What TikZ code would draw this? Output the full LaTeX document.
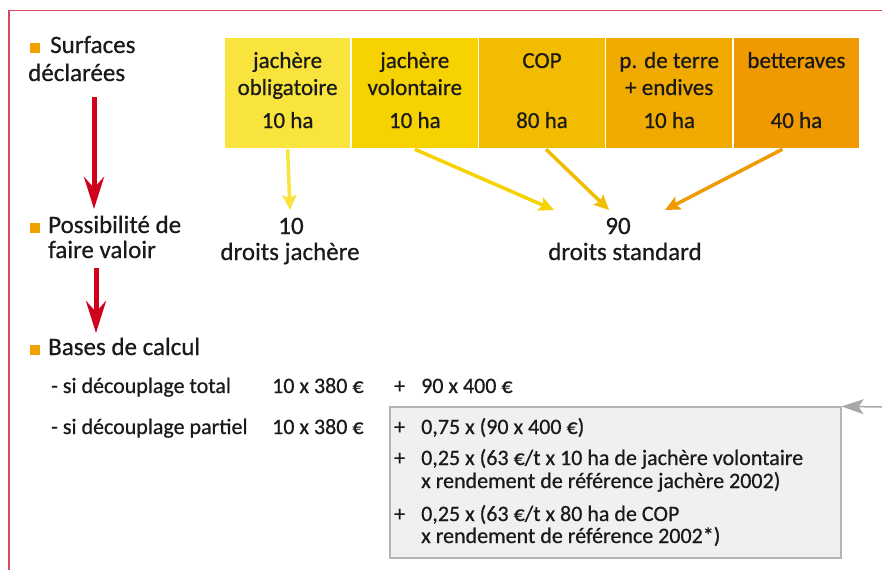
\documentclass[tikz,border=0pt]{standalone}
\usepackage{fontspec}
\setmainfont{Carlito}[FakeBold=0.6]
\usetikzlibrary{arrows.meta,calc}
\definecolor{frame}{HTML}{D84A5E}
\definecolor{redarr}{HTML}{D0021B}
\definecolor{bul}{HTML}{F0A000}
\definecolor{cA}{HTML}{F8E43C}
\definecolor{cB}{HTML}{F5D200}
\definecolor{cC}{HTML}{F2BD00}
\definecolor{cD}{HTML}{F0AA00}
\definecolor{cE}{HTML}{EE9A00}
\definecolor{gfill}{HTML}{F0F0F0}
\definecolor{gline}{HTML}{B4B4B4}
\definecolor{garr}{HTML}{A8A8A8}
\definecolor{ink}{HTML}{1A1A1A}
\newcommand\fsA{\fontsize{25}{30}\selectfont}
\newcommand\fsB{\fontsize{23}{27}\selectfont}
\newcommand\fsC{\fontsize{22}{26}\selectfont}
\begin{document}
\begin{tikzpicture}[x=1pt,y=-1pt,
  txt/.style={inner sep=0pt, anchor=base west, text=ink},
  ctxt/.style={inner sep=0pt, anchor=base, text=ink},
  bullet/.style={fill=bul, inner sep=0pt, minimum size=10pt, anchor=south west},
  surfbox/.style={minimum width=127.2pt, minimum height=111pt, inner sep=0pt, draw=white, line width=1.5pt},
  redarrow/.style={draw=redarr, line width=5pt, -{Stealth[length=32pt,width=20pt,inset=11pt]}},
  yarrow/.style={line width=3.5pt, -{Stealth[length=15pt,width=14pt,inset=3pt]}},
  gbox/.style={fill=gfill, draw=gline, line width=1.2pt, minimum width=451pt, minimum height=151pt, inner sep=0pt},
]
\useasboundingbox (0,0) rectangle (882,570);
\fill[white] (0,0) rectangle (882,570);
% frame
\draw[frame, line width=1.5pt] (9,570) -- (9,10.5) -- (882,10.5);

% surface boxes
\node[surfbox, fill=cA] (b1) at (287.6,93) {};
\node[surfbox, fill=cB] (b2) at (414.8,93) {};
\node[surfbox, fill=cC] (b3) at (542.0,93) {};
\node[surfbox, fill=cD] (b4) at (669.2,93) {};
\node[surfbox, fill=cE] (b5) at (796.4,93) {};

\node[ctxt] (t1a) at (287.6,68) {\fsB jachère};
\node[ctxt] (t1b) at (287.6,95) {\fsB obligatoire};
\node[ctxt] (t1c) at (287.6,128) {\fsB 10 ha};
\node[ctxt] (t2a) at (414.8,68) {\fsB jachère};
\node[ctxt] (t2b) at (414.8,95) {\fsB volontaire};
\node[ctxt] (t2c) at (414.8,128) {\fsB 10 ha};
\node[ctxt] (t3a) at (542.0,68) {\fsB COP};
\node[ctxt] (t3c) at (542.0,128) {\fsB 80 ha};
\node[ctxt] (t4a) at (669.2,68) {\fsB p. de terre};
\node[ctxt] (t4b) at (669.2,95) {\fsB + endives};
\node[ctxt] (t4c) at (669.2,128) {\fsB 10 ha};
\node[ctxt] (t5a) at (796.4,68) {\fsB betteraves};
\node[ctxt] (t5c) at (796.4,128) {\fsB 40 ha};

% left labels
\node[bullet] (q1) at (30,53) {};
\node[txt] (l1a) at (50,53) {\fsA Surfaces};
\node[txt] (l1b) at (28,81) {\fsA déclarées};
\node[bullet] (q2) at (30,233) {};
\node[txt] (l2a) at (48,233) {\fsA Possibilité de};
\node[txt] (l2b) at (48,258) {\fsA faire valoir};
\node[bullet] (q3) at (30,355) {};
\node[txt] (l3a) at (48,355) {\fsA Bases de calcul};

% red arrows
\coordinate (r1s) at (94,97);
\coordinate (r1e) at (94,209);
\coordinate (r2s) at (96,268);
\coordinate (r2e) at (96,333);
\draw[redarrow] (r1s) -- (r1e);
\draw[redarrow] (r2s) -- (r2e);

% results
\node[ctxt] (n10) at (291,234) {\fsA 10};
\node[ctxt] (d10) at (290,260) {\fsA droits jachère};
\node[ctxt] (n90) at (618,234) {\fsA 90};
\node[ctxt] (d90) at (625,260) {\fsA droits standard};

\coordinate (y1e) at (290,210);
\coordinate (y2e) at (554,210);
\coordinate (y3e) at (609,210);
\coordinate (y4e) at (665,210);
\draw[yarrow, draw=cA] (b1.south) -- (y1e);
\draw[yarrow, draw=cB] (b2.south) -- (y2e);
\draw[yarrow, draw=cC] ($(b3.south)+(4,0)$) -- (y3e);
\draw[yarrow, draw=cE] ($(b5.south)+(-14,0)$) -- (y4e);

% calculation
\node[gbox] (gb) at (615.5,482.5) {};
\coordinate (gin) at (882,407);
\draw[draw=garr, line width=1.5pt, -{Stealth[length=22pt,width=15pt,inset=5pt]}] (gin) -- (gb.north east);

\node[txt] (s1) at (51,393) {\fsC - si découplage total};
\node[txt] (s1a) at (272,393) {\fsC 10 x 380 €};
\node[txt] (s1p) at (394,393) {\fsC +};
\node[txt] (s1b) at (421,393) {\fsC 90 x 400 €};

\node[txt] (s2) at (51,434) {\fsC - si découplage partiel};
\node[txt] (s2a) at (272,434) {\fsC 10 x 380 €};
\node[txt] (s2p) at (394,434) {\fsC +};
\node[txt] (s2b) at (421,434) {\fsC 0,75 x (90 x 400 €)};
\node[txt] (s3p) at (394,465) {\fsC +};
\node[txt] (s3a) at (421,465) {\fsC 0,25 x (63 €/t x 10 ha de jachère volontaire};
\node[txt] (s3b) at (421,488) {\fsC x rendement de référence jachère 2002)};
\node[txt] (s4p) at (394,521) {\fsC +};
\node[txt] (s4a) at (421,521) {\fsC 0,25 x (63 €/t x 80 ha de COP};
\node[txt] (s4b) at (421,543) {\fsC x rendement de référence 2002*)};
\end{tikzpicture}
\end{document}
